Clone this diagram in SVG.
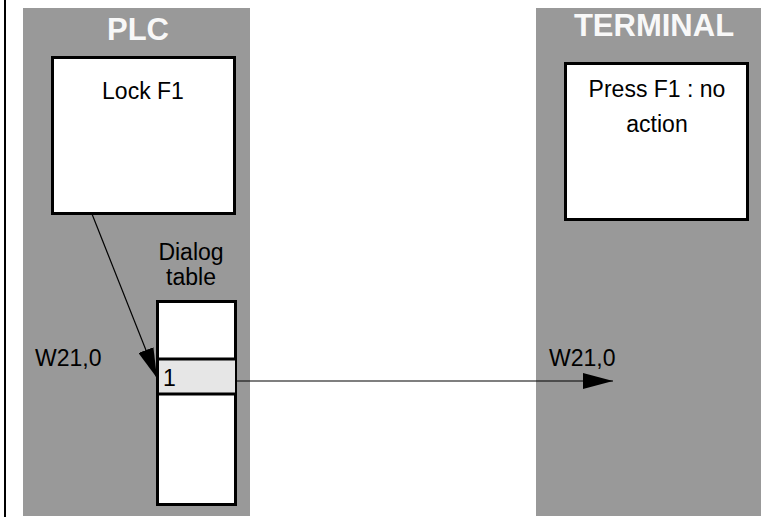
<svg xmlns="http://www.w3.org/2000/svg" width="761" height="519" viewBox="0 0 761 519">
<style>
.panel{fill:#999999;}
.box{fill:#ffffff;stroke:#000;stroke-width:3;}
.title{font-family:"Liberation Sans",Arial,sans-serif;font-weight:bold;font-size:31px;fill:#f8f8f8;text-anchor:middle;}
.lbl{font-family:"Liberation Sans",Arial,sans-serif;font-size:23px;fill:#000;}
.c{text-anchor:middle;}
.conn{stroke:#000;stroke-width:1.2;fill:none;}
</style>
<defs>
<marker id="ah" markerWidth="30" markerHeight="16" refX="30" refY="8" orient="auto" markerUnits="userSpaceOnUse">
<path d="M0,0 L30,8 L0,16 Z" fill="#000"/>
</marker>
</defs>
<rect width="761" height="519" fill="#ffffff"/>
<line x1="5" y1="0" x2="5" y2="517" stroke="#000" stroke-width="2"/>
<g id="plc">
<rect class="panel" x="23" y="8" width="227" height="508"/>
<text class="title" x="138" y="40">PLC</text>
</g>
<g id="terminal">
<rect class="panel" x="536" y="8" width="225" height="508"/>
<text class="title" x="654" y="36">TERMINAL</text>
</g>
<g id="lock">
<rect class="box" x="52.5" y="57.5" width="182" height="156"/>
<text class="lbl c" x="143" y="99">Lock F1</text>
</g>
<g id="press">
<rect class="box" x="565.5" y="63.5" width="182" height="156"/>
<text class="lbl c" x="657" y="97">Press F1 : no</text>
<text class="lbl c" x="657" y="132">action</text>
</g>
<g id="dialog-table">
<text class="lbl c" x="191" y="260">Dialog</text>
<text class="lbl c" x="191" y="285">table</text>
<rect class="box" x="157.5" y="301.5" width="78" height="203"/>
<rect x="159" y="360" width="76" height="33" fill="#e6e6e6"/>
<line x1="157" y1="359" x2="236" y2="359" stroke="#000" stroke-width="3"/>
<line x1="157" y1="394" x2="236" y2="394" stroke="#000" stroke-width="3"/>
<text class="lbl" x="163" y="386">1</text>
</g>
<g id="labels">
<text class="lbl" x="35" y="366">W21,0</text>
<text class="lbl" x="549" y="366">W21,0</text>
</g>
<g id="connectors">
<line class="conn" x1="92" y1="214" x2="157" y2="378" marker-end="url(#ah)"/>
<line class="conn" x1="236" y1="381" x2="613" y2="381" marker-end="url(#ah)"/>
</g>
</svg>
